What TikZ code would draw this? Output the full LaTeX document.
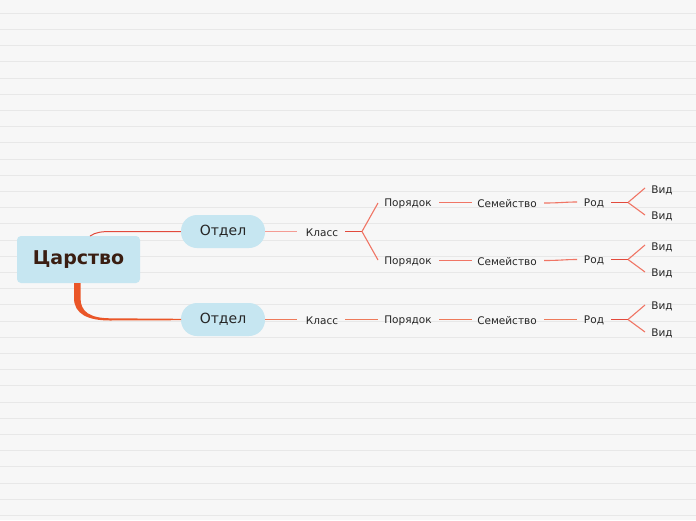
\documentclass[tikz,border=0pt]{standalone}
\usepackage{fontspec}
\setmainfont{DejaVu Sans}
\definecolor{bgc}{HTML}{F7F7F7}
\definecolor{rulec}{HTML}{E8E8E8}
\definecolor{boxc}{HTML}{C6E6F1}
\definecolor{linec}{HTML}{F07565}
\definecolor{pinkc}{HTML}{F49C94}
\definecolor{orline}{HTML}{EE7A5A}
\definecolor{darkline}{HTML}{E24A3C}
\definecolor{orangec}{HTML}{EA5628}
\definecolor{tsarc}{HTML}{3A1E12}
\begin{document}
\begin{tikzpicture}[x=1pt,y=-1pt,
  leaf/.style={inner sep=1pt,font=\fontsize{10.5}{12}\selectfont,text=black!85},
  pill/.style={fill=boxc,rounded corners=16pt,minimum width=84pt,minimum height=33pt,font=\fontsize{14}{16}\selectfont,text=black!85},
  conn/.style={linec,line width=1.1pt},
  stub/.style={darkline,line width=1.6pt}]
\useasboundingbox (0,0) rectangle (696,520);
\fill[bgc] (0,0) rectangle (696,520);
\foreach \i in {0,...,31}{\draw[rulec,line width=1pt] (0,13.3+16.2*\i) -- (696,13.3+16.2*\i);}
% root
\node[fill=boxc,rounded corners=4pt,minimum width=123pt,minimum height=47pt,font=\fontsize{19}{22}\selectfont\bfseries,text=tsarc] (tsar) at (78.5,259.5) {Царство};
\node[pill] (o1) at (223,231.5) {\raisebox{-1pt}{Отдел}};
\node[pill] (o2) at (223,319.5) {\raisebox{-1pt}{Отдел}};
\coordinate (s1) at (90,236);
\draw[darkline,line width=1pt] (s1) .. controls (96,232) and (102,231.5) .. (112,231.5) -- (o1.west);
\coordinate (e2a) at (181,320.2);
\coordinate (e2b) at (181,318.8);
\fill[orangec] (74,283) -- (74,298) .. controls (74,314) and (88,320.5) .. (110,320.5) -- (e2a) -- (e2b) -- (110,318.3) .. controls (90,318) and (80.5,312) .. (80.5,298) -- (80.5,283) -- cycle;
% row 1 / 2
\node[leaf] (k1) at (322,232.5) {Класс};
\node[leaf] (p1) at (408,203.5) {Порядок};
\node[leaf] (p2) at (408,261.5) {Порядок};
\node[leaf] (f1) at (507,203.5) {Семейство};
\node[leaf] (f2) at (507,261.5) {Семейство};
\node[leaf] (r1) at (594,203.5) {Род};
\node[leaf] (r2) at (594,260.5) {Род};
\node[leaf] (v1) at (662,190.5) {Вид};
\node[leaf] (v2) at (662,216.5) {Вид};
\node[leaf] (v3) at (662,247.5) {Вид};
\node[leaf] (v4) at (662,273.5) {Вид};
% row 3
\node[leaf] (k3) at (322,320.5) {Класс};
\node[leaf] (p3) at (408,320.5) {Порядок};
\node[leaf] (f3) at (507,320.5) {Семейство};
\node[leaf] (r3) at (594,320.5) {Род};
\node[leaf] (v5) at (662,306.5) {Вид};
\node[leaf] (v6) at (662,333.5) {Вид};
% forks
\coordinate (kf) at (362,231.5);
\coordinate (rf1) at (628,202.5);
\coordinate (rf2) at (628,259.5);
\coordinate (rf3) at (628,319.5);
% connectors
\draw[pinkc,line width=1.3pt] (o1.east) -- (297,231.5);
\draw[stub] (345,231.5) -- (kf);
\draw[conn] (kf) -- (378,203);
\draw[conn] (kf) -- (378,260);
\draw[conn] (439,202.5) -- (472,202.5);
\draw[conn] (439,260.5) -- (472,260.5);
\draw[conn] (544,203) .. controls (560,203) and (565,202) .. (577,202);
\draw[conn] (544,260.5) .. controls (560,260.5) and (565,259.5) .. (577,259.5);
\draw[stub] (611,202.5) -- (rf1);
\draw[conn] (rf1) -- (645,188);
\draw[conn] (rf1) -- (645,215);
\draw[darkline,line width=1pt] (611,259.5) -- (rf2);
\draw[conn] (rf2) -- (645,245);
\draw[conn] (rf2) -- (645,272);
\draw[orline,line width=1.2pt] (o2.east) -- (297,319.5);
\draw[orline,line width=1.1pt] (345,319.5) -- (378,319.5);
\draw[orline,line width=1.1pt] (439,319.5) -- (472,319.5);
\draw[orline,line width=1.1pt] (544,319.5) -- (577,319.5);
\draw[darkline,line width=1pt] (611,319.5) -- (rf3);
\draw[conn] (rf3) -- (645,305);
\draw[conn] (rf3) -- (645,332);
\end{tikzpicture}
\end{document}
